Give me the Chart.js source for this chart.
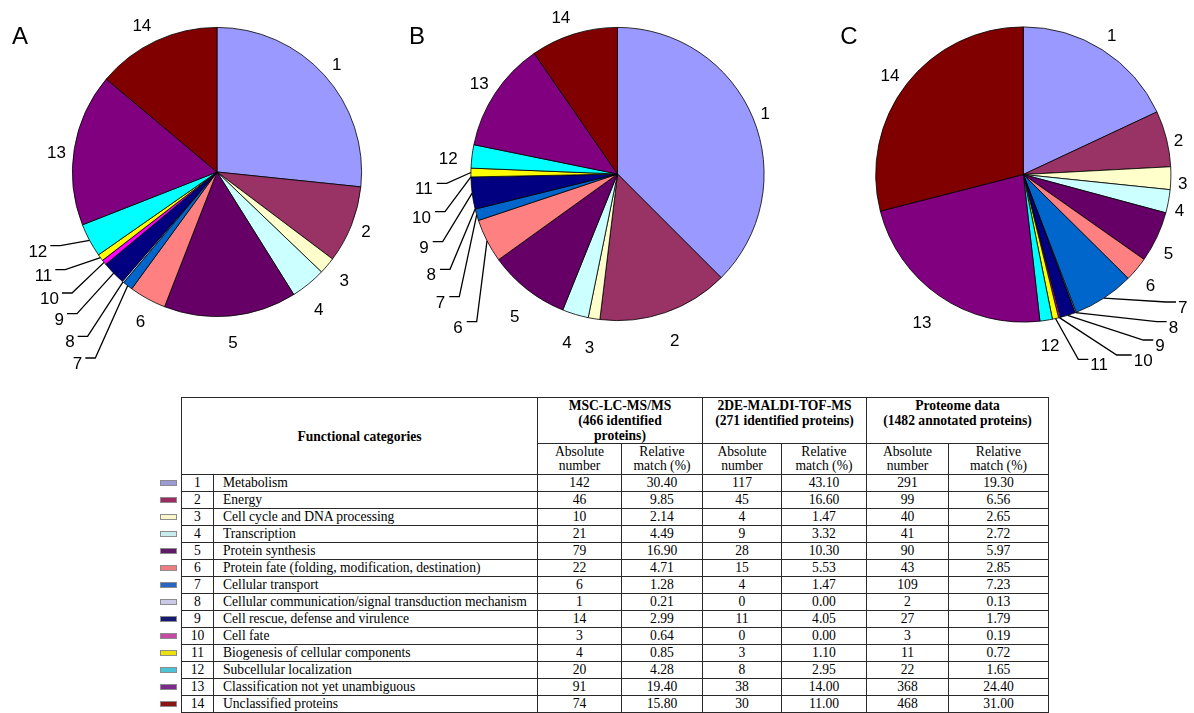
<!DOCTYPE html>
<html>
<head>
<meta charset="utf-8">
<script src="https://cdn.jsdelivr.net/npm/chart.js@4.4.1/dist/chart.umd.min.js"></script>
<style>
  html, body { margin: 0; padding: 0; background: #fff; width: 1194px; height: 713px; overflow: hidden; }
  canvas { position: absolute; top: 0; }
  #pieA { left: 0; }
  #pieB { left: 400px; }
  #pieC { left: 820px; }
  #tbl {
    position: absolute; left: 181px; top: 397px;
    border-collapse: collapse; table-layout: fixed; width: 867px;
    font-family: "Liberation Serif", "Times New Roman", serif; font-size: 13.6px; color: #000;
  }
  #tbl td, #tbl th { border: 1px solid #2a2a2a; padding: 0; text-align: center; white-space: nowrap; }
  #tbl th { font-weight: bold; vertical-align: top; line-height: 15px; padding-top: 0; }
  #tbl th.fc { vertical-align: middle; }
  #tbl tr.hdr1 { height: 46px; }
  #tbl tr.hdr2 { height: 31px; }
  #tbl tr.hdr2 td { line-height: 14.5px; }
  #tbl tr.row { height: 17px; }
  #tbl tr.row td { line-height: 14px; }
  #tbl tr.nosep td { border-top-color: transparent; }
  #tbl td.name { text-align: left; padding-left: 9px; }
  #tbl td.num { position: relative; }
  .sw { position: absolute; left: -22px; top: 50%; margin-top: -3px; width: 15px; height: 4px; border: 1px solid #8c8c8c; }
</style>
</head>
<body>
<canvas id="pieA" width="400" height="385"></canvas>
<canvas id="pieB" width="420" height="385"></canvas>
<canvas id="pieC" width="374" height="385"></canvas>
<table id="tbl">
  <colgroup>
    <col style="width:32px"><col style="width:324px"><col style="width:84px"><col style="width:81px">
    <col style="width:79px"><col style="width:85px"><col style="width:82px"><col style="width:100px">
  </colgroup>
  <thead>
    <tr class="hdr1">
      <th class="fc" colspan="2" rowspan="2">Functional categories</th>
      <th colspan="2">MSC-LC-MS/MS<br>(466 identified<br>proteins)</th>
      <th colspan="2">2DE-MALDI-TOF-MS<br>(271 identified proteins)</th>
      <th colspan="2">Proteome data<br>(1482 annotated proteins)</th>
    </tr>
    <tr class="hdr2">
      <td>Absolute<br>number</td><td>Relative<br>match (%)</td>
      <td>Absolute<br>number</td><td>Relative<br>match (%)</td>
      <td>Absolute<br>number</td><td>Relative<br>match (%)</td>
    </tr>
  </thead>
  <tbody id="rows"></tbody>
</table>
<script>
// Functional categories (category numbers are the pie slice labels)
const categoryIds = ['1','2','3','4','5','6','7','8','9','10','11','12','13','14'];
const categoryNames = [
  'Metabolism',
  'Energy',
  'Cell cycle and DNA processing',
  'Transcription',
  'Protein synthesis',
  'Protein fate (folding, modification, destination)',
  'Cellular transport',
  'Cellular communication/signal transduction mechanism',
  'Cell rescue, defense and virulence',
  'Cell fate',
  'Biogenesis of cellular components',
  'Subcellular localization',
  'Classification not yet unambiguous',
  'Unclassified proteins'
];

// MSC-LC-MS/MS (466 identified proteins)
const mscAbsolute = [142, 46, 10, 21, 79, 22, 6, 1, 14, 3, 4, 20, 91, 74];
const mscRelative = [30.40, 9.85, 2.14, 4.49, 16.90, 4.71, 1.28, 0.21, 2.99, 0.64, 0.85, 4.28, 19.40, 15.80];

// 2DE-MALDI-TOF-MS (271 identified proteins)
const maldiAbsolute = [117, 45, 4, 9, 28, 15, 4, 0, 11, 0, 3, 8, 38, 30];
const maldiRelative = [43.10, 16.60, 1.47, 3.32, 10.30, 5.53, 1.47, 0.00, 4.05, 0.00, 1.10, 2.95, 14.00, 11.00];

// Proteome data (1482 annotated proteins)
const proteomeAbsolute = [291, 99, 40, 41, 90, 43, 109, 2, 27, 3, 11, 22, 368, 468];
const proteomeRelative = [19.30, 6.56, 2.65, 2.72, 5.97, 2.85, 7.23, 0.13, 1.79, 0.19, 0.72, 1.65, 24.40, 31.00];

// Slice fill colours and the matching legend swatches of the table
const sliceColors = ['#9999FF', '#993366', '#FFFFCC', '#CCFFFF', '#660066', '#FF8080', '#0066CC',
                     '#CCCCFF', '#000080', '#FF00FF', '#FFFF00', '#00FFFF', '#800080', '#800000'];
const swatchColors = ['#9a9ad4', '#9c2c62', '#fbf7c8', '#c6ecee', '#5e1a66', '#ee7c80', '#2866c4',
                      '#cacae6', '#161a72', '#c64aa4', '#eae20a', '#4cc4d6', '#7c2a8e', '#8e1414'];

// ---- table ----
const tbody = document.getElementById('rows');
categoryIds.forEach((id, i) => {
  const tr = document.createElement('tr');
  tr.className = 'row' + (id === '7' ? ' nosep' : '');
  const cells = [
    mscAbsolute[i], mscRelative[i].toFixed(2),
    maldiAbsolute[i], maldiRelative[i].toFixed(2),
    proteomeAbsolute[i], proteomeRelative[i].toFixed(2)
  ];
  tr.innerHTML =
    '<td class="num"><span class="sw" style="background:' + swatchColors[i] + '"></span>' + id + '</td>' +
    '<td class="name">' + categoryNames[i] + '</td>' +
    cells.map(v => '<td>' + v + '</td>').join('');
  tbody.appendChild(tr);
});

// ---- pie labels: radial numbers, or numbers on leader lines for thin slices ----
const LABEL_SIZE = 17;
const pieLabels = {
  id: 'pieLabels',
  afterDatasetsDraw(chart, args, opts) {
    const ctx = chart.ctx;
    const meta = chart.getDatasetMeta(0);
    const ids = chart.data.labels;
    const lift = 0.358 * LABEL_SIZE;
    ctx.save();
    ctx.fillStyle = '#000';
    ctx.strokeStyle = '#000';
    ctx.lineWidth = 1.3;
    ctx.textBaseline = 'alphabetic';
    ctx.font = LABEL_SIZE + 'px "Liberation Sans", Arial, sans-serif';
    meta.data.forEach((arc, i) => {
      const p = arc.getProps(['x', 'y', 'startAngle', 'endAngle', 'outerRadius'], true);
      const mid = (p.startAngle + p.endAngle) / 2;
      const id = ids[i];
      const lead = opts.leaders[id];
      if (lead) {
        const dir = opts.side === 'left' ? -1 : 1;
        const ax = p.x + Math.cos(mid) * p.outerRadius;
        const ay = p.y + Math.sin(mid) * p.outerRadius;
        const ex = p.x + lead[0], ey = p.y + lead[1];
        const sx = ex + dir * (lead[2] || 10);
        ctx.beginPath();
        ctx.moveTo(ax, ay);
        ctx.lineTo(ex, ey);
        ctx.lineTo(sx, ey);
        ctx.stroke();
        ctx.textAlign = dir < 0 ? 'right' : 'left';
        ctx.fillText(id, sx + dir * opts.gap, ey + 5 + lift);
      } else {
        const place = opts.radial[id] || [1.13, 0];
        const R = p.outerRadius * place[0];
        const a = mid + (place[1] || 0) * Math.PI / 180;
        ctx.textAlign = 'center';
        ctx.fillText(id, p.x + Math.cos(a) * R, p.y + Math.sin(a) * R + lift);
      }
    });
    ctx.font = '24px "Liberation Sans", Arial, sans-serif';
    ctx.textAlign = 'center';
    ctx.fillText(opts.letter, opts.letterX, 43.5);
    ctx.restore();
  }
};

function makePie(canvasId, values, padding, labelOpts) {
  return new Chart(document.getElementById(canvasId), {
    type: 'pie',
    data: {
      labels: categoryIds,
      datasets: [{
        data: values,
        backgroundColor: sliceColors,
        borderColor: '#000',
        borderWidth: 0.8
      }]
    },
    options: {
      responsive: false,
      animation: false,
      devicePixelRatio: 1,
      layout: { padding: padding },
      events: [],
      plugins: {
        legend: { display: false },
        tooltip: { enabled: false },
        pieLabels: labelOpts
      }
    },
    plugins: [pieLabels]
  });
}

// radial: [distance as a multiple of the radius, angular nudge in degrees]
makePie('pieA', mscAbsolute, { left: 72, top: 27, right: 38, bottom: 68 }, {
  letter: 'A', letterX: 20, side: 'left', gap: 3,
  radial: { '1': [1.115], '2': [1.107], '3': [1.154], '4': [1.178, 2.5], '5': [1.178], '6': [1.157, -1.5],
            '13': [1.118, -2.3], '14': [1.145, -2] },
  leaders: {
    '12': [-156.7, 73.7], '11': [-151.7, 97.7], '10': [-145, 121],
    '9': [-140, 141.7], '8': [-129.4, 164.4], '7': [-121.7, 186]
  }
});

makePie('pieB', maldiAbsolute, { left: 70.5, top: 27, right: 55.5, bottom: 64 }, {
  letter: 'B', letterX: 17, side: 'left', gap: 4,
  radial: { '1': [1.09], '2': [1.195], '3': [1.195], '4': [1.198], '5': [1.195, -2.2],
            '12': [1.16, -1.5], '13': [1.13], '14': [1.14, -2.5] },
  leaders: {
    '11': [-170.8, 9.3], '10': [-172.5, 37.7], '9': [-174.8, 67.7],
    '8': [-167.5, 95.3], '7': [-158.2, 122.7], '6': [-140.8, 147.7]
  }
});

makePie('pieC', proteomeAbsolute, { left: 55.3, top: 26.5, right: 22.7, bottom: 62.5 }, {
  letter: 'C', letterX: 29, side: 'right', gap: 2,
  radial: { '1': [1.117], '2': [1.077, 1.6], '3': [1.082, 1.5], '4': [1.085, 2.3], '5': [1.12, 3.4],
            '6': [1.14, 1], '12': [1.17], '13': [1.21], '14': [1.128, -1] },
  leaders: {
    '7': [142.7, 127.5], '8': [133.4, 147.2], '9': [120, 165.5],
    '10': [93.4, 180.5, 15], '11': [55, 184.8]
  }
});
</script>
</body>
</html>
